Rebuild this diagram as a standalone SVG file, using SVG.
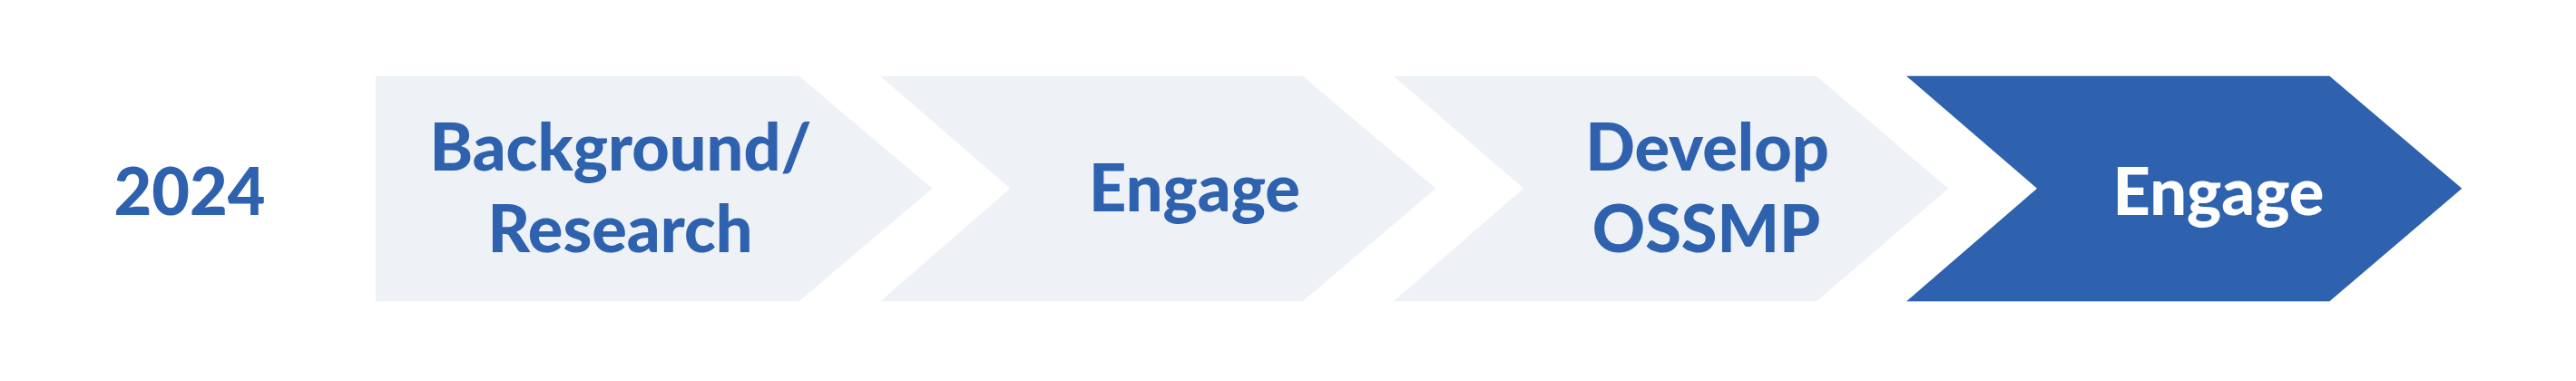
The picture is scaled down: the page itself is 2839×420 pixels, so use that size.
<svg xmlns="http://www.w3.org/2000/svg" width="2839" height="420" viewBox="0 0 2839 420">
<style>
.light{fill:#EEF2F6;}
.dark{fill:#2E62AE;}
.t{font-family:Lato,"Open Sans","Liberation Sans",sans-serif;font-weight:900;font-size:72px;text-anchor:middle;}
.tb{fill:#2E62AE;}
.tw{fill:#FFFFFF;}
</style>
<rect width="2839" height="420" fill="#FFFFFF"/>
<g id="year">
<text class="t tb" x="209" y="237">2024</text>
</g>
<g id="step1">
<path class="light" d="M414,83.7 H880.5 L1027.3,207.8 L880.5,332.3 H414 Z"/>
<text class="t tb" x="684" y="188">Background/</text>
<text class="t tb" x="683.6" y="278">Research</text>
</g>
<g id="step2">
<path class="light" d="M970,83.7 H1435.7 L1582.3,207.8 L1435.7,332.3 H970 L1113.3,207.8 Z"/>
<text class="t tb" x="1316.5" y="233">Engage</text>
</g>
<g id="step3">
<path class="light" d="M1535.7,83.7 H2001.7 L2147.3,207.8 L2001.7,332.3 H1535.7 L1679,207.8 Z"/>
<text class="t tb" x="1881.5" y="188">Develop</text>
<text class="t tb" x="1880.5" y="278">OSSMP</text>
</g>
<g id="step4">
<path class="dark" d="M2101,83.7 H2567.3 L2713.3,207.8 L2567.3,332.3 H2101 L2245,207.8 Z"/>
<text class="t tw" x="2445" y="237">Engage</text>
</g>
<g id="connectors"></g>
</svg>
